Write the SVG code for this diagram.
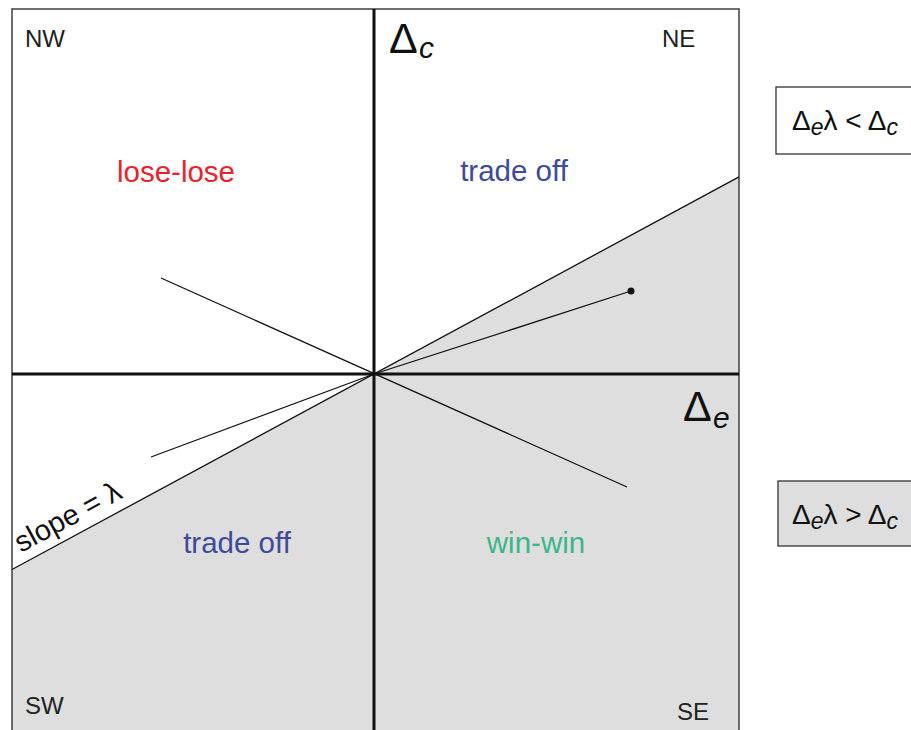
<svg xmlns="http://www.w3.org/2000/svg" width="911" height="730" viewBox="0 0 911 730">
<style>
text{font-family:"Liberation Sans",Arial,sans-serif;}
.corner{font-size:24px;fill:#222;}
.reg{font-size:29.5px;}
.axis{fill:none;stroke:#111;stroke-width:3;}
.thin{fill:none;stroke:#111;stroke-width:1.3;}
.big{font-size:43px;fill:#111;}
.sub{font-size:30px;font-style:italic;fill:#111;}
.box{font-size:28px;fill:#111;}
.bsub{font-size:23px;font-style:italic;}
</style>
<rect width="911" height="730" fill="#fff"/>
<g id="shade"><polygon points="12,569.5 739,176.9 739,731 12,731" fill="#dedede"/></g>
<g id="frame"><rect x="12" y="9" width="727" height="730" fill="none" stroke="#4a4a4a" stroke-width="1.6"/></g>
<g id="connectors">
<line class="axis" x1="374" y1="9" x2="374" y2="730"/>
<line class="axis" x1="12" y1="374" x2="739" y2="374"/>
<line class="thin" x1="12" y1="569.5" x2="739" y2="176.9"/>
<line class="thin" x1="161" y1="278" x2="627" y2="487"/>
<polyline class="thin" points="151,457 374,374 631,291"/>
<circle cx="631" cy="291" r="3.5" fill="#111"/>
</g>
<g id="labels">
<text class="corner" x="25" y="47">NW</text>
<text class="corner" x="662" y="47">NE</text>
<text class="corner" x="25" y="714">SW</text>
<text class="corner" x="677" y="720">SE</text>
<text class="reg" x="176" y="182" text-anchor="middle" fill="#e8232b">lose-lose</text>
<text class="reg" x="514" y="181" text-anchor="middle" fill="#3e4a9c">trade off</text>
<text class="reg" x="237" y="553" text-anchor="middle" fill="#3e4a9c">trade off</text>
<text class="reg" x="536" y="553" text-anchor="middle" fill="#3bb68a">win-win</text>
<text class="big" x="389" y="53">Δ</text><text class="sub" x="419" y="58">c</text>
<text class="big" x="683" y="421">Δ</text><text class="sub" x="713" y="428">e</text>
<text font-size="29" fill="#111" transform="translate(21,553) rotate(-28.4)">slope = λ</text>
</g>
<g id="legend-less">
<rect x="776" y="87" width="140" height="67" fill="#fff" stroke="#333" stroke-width="1.3"/>
<text class="box" x="792" y="130">Δ<tspan class="bsub" dy="5">e</tspan><tspan dy="-5">λ &lt; Δ</tspan><tspan class="bsub" dy="5">c</tspan></text>
</g>
<g id="legend-more">
<rect x="778" y="481" width="140" height="65" fill="#dedede" stroke="#333" stroke-width="1.3"/>
<text class="box" x="792" y="524">Δ<tspan class="bsub" dy="5">e</tspan><tspan dy="-5">λ &gt; Δ</tspan><tspan class="bsub" dy="5">c</tspan></text>
</g>
</svg>
